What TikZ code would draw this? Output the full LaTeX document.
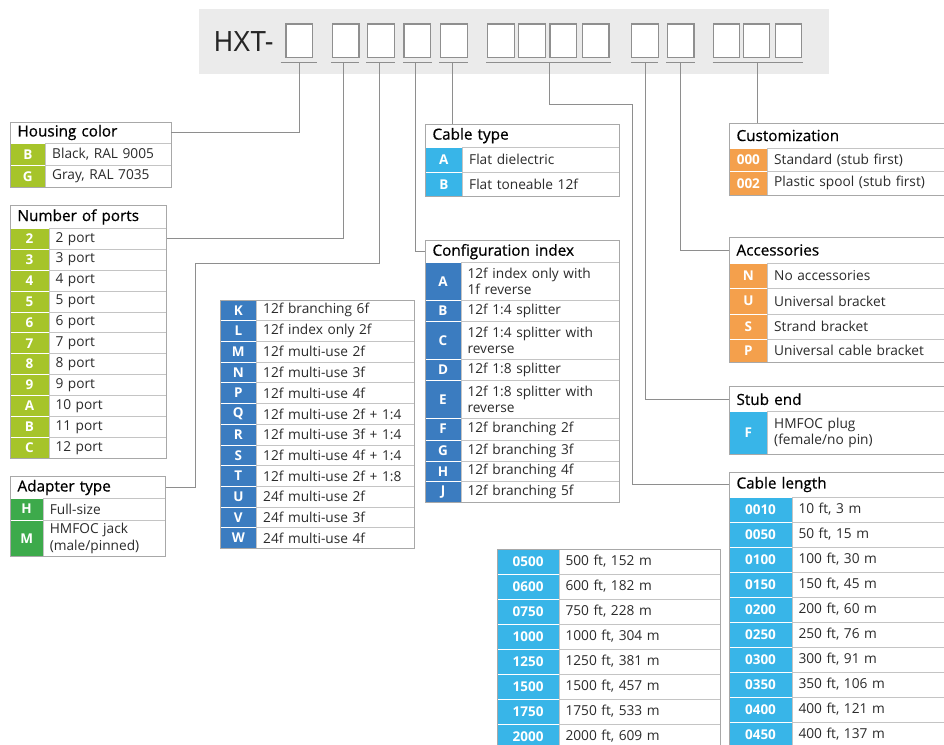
\documentclass[tikz,border=0pt]{standalone}
\usepackage{fontspec}
\setmainfont{Open Sans}
\newfontfamily\hxtfont{Liberation Sans}
\font\ttlraw="Open Sans:embolden=0.6" at 15.3pt
\definecolor{lime}{HTML}{A6C42A}
\definecolor{agreen}{HTML}{3DAA4B}
\definecolor{sblue}{HTML}{3B7CC0}
\definecolor{skyb}{HTML}{38B5E8}
\definecolor{orng}{HTML}{F4A04C}
\definecolor{bord}{HTML}{A8A8A8}
\definecolor{sepc}{HTML}{C4C4C4}
\definecolor{connc}{HTML}{8E8E8E}
\definecolor{bann}{HTML}{EBEBEB}
\definecolor{rowtext}{HTML}{2B2B2B}
\newcommand\rowfont{\fontsize{13.7}{16.5}\selectfont}
\newcommand\ttlfont{\ttlraw}
\newcommand\codefont{\fontsize{13.5}{16}\selectfont\bfseries}
\tikzset{
  codec/.style={anchor=north west, inner sep=0pt, outer sep=0pt, draw=white, line width=0.8pt, text=white, font=\codefont},
  txtc/.style={anchor=north west, inner xsep=6.5pt, inner ysep=0pt, outer sep=0pt, draw=sepc, line width=0.8pt, fill=white, align=left, text=rowtext, font=\rowfont},
  ttl/.style={anchor=north west, inner xsep=7.5pt, inner ysep=0pt, outer sep=0pt, draw=sepc, line width=0.8pt, fill=white, align=left, text=black, font=\ttlfont},
  frame/.style={draw=bord, line width=0.9pt},
  conn/.style={draw=connc, line width=1pt},
  slot/.style={draw=bord!85!black, fill=white, line width=1.1pt, anchor=north west, inner sep=0pt, outer sep=0pt, minimum width=26.5pt, minimum height=33.7pt},
  uline/.style={draw=connc, line width=1pt}
}
% row: 1 name, 2 position, 3 code width, 4 total width, 5 height, 6 colour, 7 code, 8 text
\newcommand\crow[8]{%
  \pgfmathsetmacro\tw{#4-#3-13}%
  \node[codec,fill=#6,minimum width=#3pt,minimum height=#5pt] (#1c) at (#2) {#7};
  \node[txtc,text width=\tw pt,minimum height=#5pt] (#1t) at (#1c.north east) {#8};
}
% title: 1 name, 2 position, 3 width, 4 height, 5 text
\newcommand\ttitle[5]{%
  \pgfmathsetmacro\tw{#3-15}%
  \node[ttl,text width=\tw pt,minimum height=#4pt] (#1) at (#2) {#5};
}
\begin{document}
\begin{tikzpicture}[x=1pt,y=-1pt]
\useasboundingbox (0,0) rectangle (944,744);
\clip (0,0) rectangle (944,744);
\fill[white] (0,0) rectangle (944,744);

% ---------- banner ----------
\node[fill=bann, anchor=north west, inner sep=0pt, minimum width=630pt, minimum height=65pt] (banner) at (198.3,9) {};
\node[anchor=base west, inner sep=0pt, font=\hxtfont\fontsize{29}{30}\selectfont, text=black!85, xscale=0.9] (hxt) at (214,51.7) {HXT-};
\node[slot] (b1) at (286,24) {};
\node[slot] (b2) at (332.5,24) {};
\node[slot] (b3) at (367.7,24) {};
\node[slot] (b4) at (404,24) {};
\node[slot] (b5) at (440.9,24) {};
\node[slot] (b6) at (487.7,24) {};
\node[slot] (b7) at (518.6,24) {};
\node[slot] (b8) at (550,24) {};
\node[slot] (b9) at (582.5,24) {};
\node[slot] (b10) at (631.7,24) {};
\node[slot] (b11) at (667.5,24) {};
\node[slot] (b12) at (713.3,24) {};
\node[slot] (b13) at (743.2,24) {};
\node[slot] (b14) at (775.2,24) {};
\draw[uline] (280.7,62.3) -- (316.7,62.3);
\draw[uline] (331,62.3) -- (359,62.3);
\draw[uline] (366,62.3) -- (395,62.3);
\draw[uline] (403,62.3) -- (432,62.3);
\draw[uline] (439,62.3) -- (468,62.3);
\draw[uline] (486,62.3) -- (611,62.3);
\draw[uline] (631,62.3) -- (658.3,62.3);
\draw[uline] (666,62.3) -- (695,62.3);
\draw[uline] (712.7,62.3) -- (802.7,62.3);
\coordinate (u1) at (299.3,62.3);
\coordinate (u2) at (343.7,62.3);
\coordinate (u3) at (379,62.3);
\coordinate (u4) at (415,62.3);
\coordinate (u5) at (452.3,62.3);
\coordinate (u6) at (549.3,62.3);
\coordinate (u7) at (645.3,62.3);
\coordinate (u8) at (680.7,62.3);
\coordinate (u9) at (757.7,62.3);
\coordinate (j3) at (195,263);
\coordinate (j6) at (632.7,104);

% ---------- Housing color ----------
\ttitle{hc}{10,122}{161}{21}{Housing color}
\crow{hB}{hc.south west}{35.7}{161}{22.7}{lime}{B}{Black, RAL 9005}
\crow{hG}{hBc.south west}{35.7}{161}{21.3}{lime}{G}{Gray, RAL 7035}
\draw[frame] (hc.north west) rectangle (hGt.south east);

% ---------- Number of ports ----------
\ttitle{np}{10,205.7}{156.7}{22.6}{Number of ports}
\crow{p1}{np.south west}{39}{156.7}{20.9}{lime}{2}{2 port}
\crow{p2}{p1c.south west}{39}{156.7}{20.9}{lime}{3}{3 port}
\crow{p3}{p2c.south west}{39}{156.7}{20.9}{lime}{4}{4 port}
\crow{p4}{p3c.south west}{39}{156.7}{20.9}{lime}{5}{5 port}
\crow{p5}{p4c.south west}{39}{156.7}{20.9}{lime}{6}{6 port}
\crow{p6}{p5c.south west}{39}{156.7}{20.9}{lime}{7}{7 port}
\crow{p7}{p6c.south west}{39}{156.7}{20.9}{lime}{8}{8 port}
\crow{p8}{p7c.south west}{39}{156.7}{20.9}{lime}{9}{9 port}
\crow{p9}{p8c.south west}{39}{156.7}{20.9}{lime}{A}{10 port}
\crow{p10}{p9c.south west}{39}{156.7}{20.9}{lime}{B}{11 port}
\crow{p11}{p10c.south west}{39}{156.7}{20.9}{lime}{C}{12 port}
\draw[frame] (np.north west) rectangle (p11t.south east);

% ---------- Adapter type ----------
\ttitle{at}{10,476.7}{155.7}{21.6}{Adapter type}
\crow{aH}{at.south west}{33.3}{155.7}{21.7}{agreen}{H}{Full-size}
\crow{aM}{aHc.south west}{33.3}{155.7}{36.7}{agreen}{M}{HMFOC jack\\(male/pinned)}
\draw[frame] (at.north west) rectangle (aMt.south east);

% ---------- K..W table ----------
\coordinate (kw0) at (220,300);
\crow{k1}{kw0}{36.7}{194}{20.7}{sblue}{K}{12f branching 6f}
\crow{k2}{k1c.south west}{36.7}{194}{20.7}{sblue}{L}{12f index only 2f}
\crow{k3}{k2c.south west}{36.7}{194}{20.7}{sblue}{M}{12f multi-use 2f}
\crow{k4}{k3c.south west}{36.7}{194}{20.7}{sblue}{N}{12f multi-use 3f}
\crow{k5}{k4c.south west}{36.7}{194}{20.7}{sblue}{P}{12f multi-use 4f}
\crow{k6}{k5c.south west}{36.7}{194}{20.7}{sblue}{Q}{12f multi-use 2f + 1:4}
\crow{k7}{k6c.south west}{36.7}{194}{20.7}{sblue}{R}{12f multi-use 3f + 1:4}
\crow{k8}{k7c.south west}{36.7}{194}{20.7}{sblue}{S}{12f multi-use 4f + 1:4}
\crow{k9}{k8c.south west}{36.7}{194}{20.7}{sblue}{T}{12f multi-use 2f + 1:8}
\crow{k10}{k9c.south west}{36.7}{194}{20.7}{sblue}{U}{24f multi-use 2f}
\crow{k11}{k10c.south west}{36.7}{194}{20.7}{sblue}{V}{24f multi-use 3f}
\crow{k12}{k11c.south west}{36.7}{194}{20.7}{sblue}{W}{24f multi-use 4f}
\draw[frame] (k1c.north west) rectangle (k12t.south east);

% ---------- Cable type ----------
\ttitle{ct}{425,124.3}{194}{22.7}{Cable type}
\crow{tA}{ct.south west}{37.7}{194}{25.3}{skyb}{A}{Flat dielectric}
\crow{tB}{tAc.south west}{37.7}{194}{24.4}{skyb}{B}{Flat toneable 12f}
\draw[frame] (ct.north west) rectangle (tBt.south east);

% ---------- Configuration index ----------
\ttitle{ci}{425,240.7}{194}{22}{Configuration index}
\crow{cA}{ci.south west}{36}{194}{37.3}{sblue}{A}{12f index only with\\1f reverse}
\crow{cB}{cAc.south west}{36}{194}{21.7}{sblue}{B}{12f 1:4 splitter}
\crow{cC}{cBc.south west}{36}{194}{37.3}{sblue}{C}{12f 1:4 splitter with\\reverse}
\crow{cD}{cCc.south west}{36}{194}{21.7}{sblue}{D}{12f 1:8 splitter}
\crow{cE}{cDc.south west}{36}{194}{37.3}{sblue}{E}{12f 1:8 splitter with\\reverse}
\crow{cF}{cEc.south west}{36}{194}{22}{sblue}{F}{12f branching 2f}
\crow{cG}{cFc.south west}{36}{194}{21}{sblue}{G}{12f branching 3f}
\crow{cH}{cGc.south west}{36}{194}{20.7}{sblue}{H}{12f branching 4f}
\crow{cJ}{cHc.south west}{36}{194}{20.3}{sblue}{J}{12f branching 5f}
\draw[frame] (ci.north west) rectangle (cJt.south east);

% ---------- Customization ----------
\ttitle{cu}{729,123}{220}{25}{Customization}
\crow{u0}{cu.south west}{38.7}{220}{23.7}{orng}{000}{Standard (stub first)}
\crow{u2r}{u0c.south west}{38.7}{220}{23.3}{orng}{002}{Plastic spool (stub first)}
\draw[frame] (cu.north west) rectangle (u2rt.south east);

% ---------- Accessories ----------
\ttitle{ac}{729,237}{220}{26}{Accessories}
\crow{aN}{ac.south west}{38.7}{220}{25}{orng}{N}{No accessories}
\crow{aU}{aNc.south west}{38.7}{220}{26}{orng}{U}{Universal bracket}
\crow{aS}{aUc.south west}{38.7}{220}{25}{orng}{S}{Strand bracket}
\crow{aP}{aSc.south west}{38.7}{220}{23}{orng}{P}{Universal cable bracket}
\draw[frame] (ac.north west) rectangle (aPt.south east);

% ---------- Stub end ----------
\ttitle{se}{729,386.7}{220}{25}{Stub end}
\crow{sF}{se.south west}{38.7}{220}{42.3}{skyb}{F}{HMFOC plug\\(female/no pin)}
\draw[frame] (se.north west) rectangle (sFt.south east);

% ---------- Cable length ----------
\ttitle{cl}{729,472}{220}{25}{Cable length}
\crow{l1}{cl.south west}{63}{220}{25}{skyb}{0010}{10 ft, 3 m}
\crow{l2}{l1c.south west}{63}{220}{25}{skyb}{0050}{50 ft, 15 m}
\crow{l3}{l2c.south west}{63}{220}{25}{skyb}{0100}{100 ft, 30 m}
\crow{l4}{l3c.south west}{63}{220}{25}{skyb}{0150}{150 ft, 45 m}
\crow{l5}{l4c.south west}{63}{220}{25}{skyb}{0200}{200 ft, 60 m}
\crow{l6}{l5c.south west}{63}{220}{25}{skyb}{0250}{250 ft, 76 m}
\crow{l7}{l6c.south west}{63}{220}{25}{skyb}{0300}{300 ft, 91 m}
\crow{l8}{l7c.south west}{63}{220}{25}{skyb}{0350}{350 ft, 106 m}
\crow{l9}{l8c.south west}{63}{220}{25}{skyb}{0400}{400 ft, 121 m}
\crow{l10}{l9c.south west}{63}{220}{25}{skyb}{0450}{400 ft, 137 m}
\draw[frame] (cl.north west) rectangle (l10t.south east);

% ---------- Cable length (continued) ----------
\coordinate (m0) at (497.3,549);
\crow{m1}{m0}{61.7}{222.7}{25}{skyb}{0500}{500 ft, 152 m}
\crow{m2}{m1c.south west}{61.7}{222.7}{25}{skyb}{0600}{600 ft, 182 m}
\crow{m3}{m2c.south west}{61.7}{222.7}{25}{skyb}{0750}{750 ft, 228 m}
\crow{m4}{m3c.south west}{61.7}{222.7}{25}{skyb}{1000}{1000 ft, 304 m}
\crow{m5}{m4c.south west}{61.7}{222.7}{25}{skyb}{1250}{1250 ft, 381 m}
\crow{m6}{m5c.south west}{61.7}{222.7}{25}{skyb}{1500}{1500 ft, 457 m}
\crow{m7}{m6c.south west}{61.7}{222.7}{25}{skyb}{1750}{1750 ft, 533 m}
\crow{m8}{m7c.south west}{61.7}{222.7}{25}{skyb}{2000}{2000 ft, 609 m}
\draw[frame] (m1c.north west) rectangle (m8t.south east);

% ---------- connectors ----------
\draw[conn] (u1) |- (hc.east);
\draw[conn] (u2) |- (p1t.east);
\draw[conn] (u3) |- (j3) |- (at.east);
\draw[conn] (u4) |- (ci.west);
\draw[conn] (u5) -- (u5 |- ct.north);
\draw[conn] (u6) |- (j6) |- (cl.west);
\draw[conn] (u7) |- (se.west);
\draw[conn] (u8) |- (ac.west);
\draw[conn] (u9) -- (u9 |- cu.north);
\end{tikzpicture}
\end{document}
